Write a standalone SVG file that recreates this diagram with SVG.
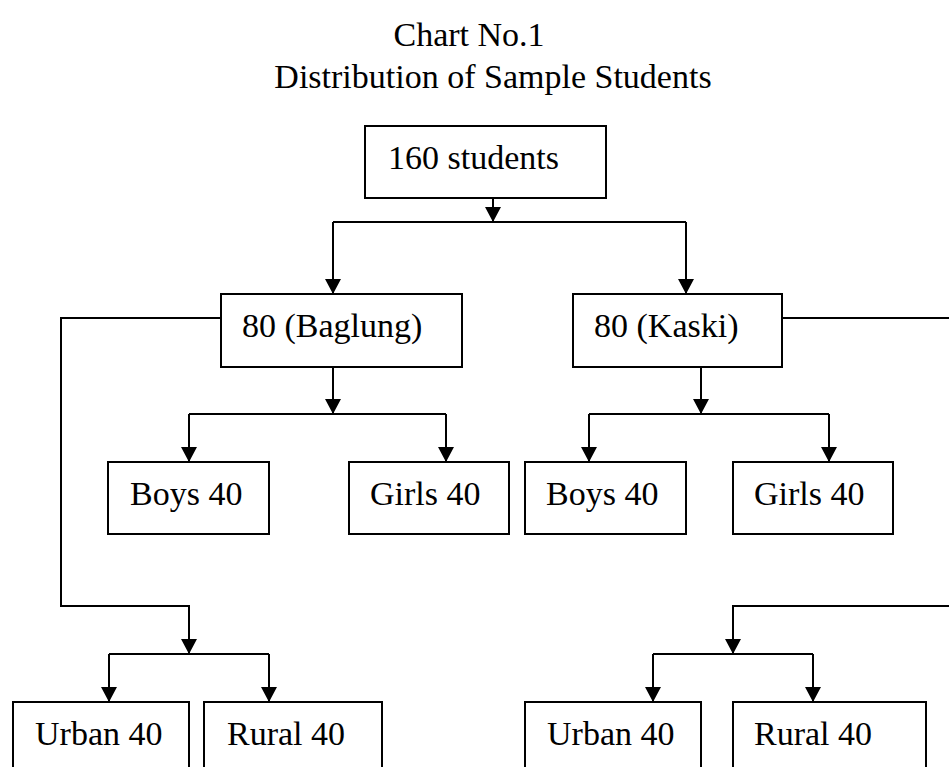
<svg xmlns="http://www.w3.org/2000/svg" width="949" height="767" viewBox="0 0 949 767">
<style>
text{font-family:"Liberation Serif","Times New Roman",serif;font-size:34px;fill:#000}
.box{fill:#fff;stroke:#000;stroke-width:2}
.ln{fill:none;stroke:#000;stroke-width:2}
</style>
<defs>
<marker id="a" markerUnits="userSpaceOnUse" markerWidth="16" markerHeight="16" refX="15" refY="8" orient="auto" viewBox="0 0 16 16">
<path d="M0,0 L15,8 L0,16 Z" fill="#000"/>
</marker>
</defs>
<rect width="949" height="767" fill="#fff"/>
<g id="title">
<text x="469" y="46" text-anchor="middle">Chart No.1</text>
<text x="493" y="88" text-anchor="middle">Distribution of Sample Students</text>
</g>
<g id="connectors">
<path class="ln" d="M493,198 V222" marker-end="url(#a)"/>
<path class="ln" d="M333,222 H686"/>
<path class="ln" d="M333,222 V294" marker-end="url(#a)"/>
<path class="ln" d="M686,222 V294" marker-end="url(#a)"/>
<path class="ln" d="M333,367 V414" marker-end="url(#a)"/>
<path class="ln" d="M189,414 H446"/>
<path class="ln" d="M189,414 V462" marker-end="url(#a)"/>
<path class="ln" d="M446,414 V462" marker-end="url(#a)"/>
<path class="ln" d="M701,367 V414" marker-end="url(#a)"/>
<path class="ln" d="M589,414 H829"/>
<path class="ln" d="M589,414 V462" marker-end="url(#a)"/>
<path class="ln" d="M829,414 V462" marker-end="url(#a)"/>
<path class="ln" d="M221,318 H61 V606 H189 V654" marker-end="url(#a)"/>
<path class="ln" d="M109,654 H269"/>
<path class="ln" d="M109,654 V702" marker-end="url(#a)"/>
<path class="ln" d="M269,654 V702" marker-end="url(#a)"/>
<path class="ln" d="M782,318 H962 V606 H733 V654" marker-end="url(#a)"/>
<path class="ln" d="M653,654 H813"/>
<path class="ln" d="M653,654 V702" marker-end="url(#a)"/>
<path class="ln" d="M813,654 V702" marker-end="url(#a)"/>
</g>
<g id="n160"><rect class="box" x="365" y="126" width="241" height="72"/><text x="388" y="169">160 students</text></g>
<g id="baglung"><rect class="box" x="221" y="294" width="241" height="73"/><text x="242" y="337">80 (Baglung)</text></g>
<g id="kaski"><rect class="box" x="573" y="294" width="209" height="73"/><text x="594" y="337">80 (Kaski)</text></g>
<g id="boys1"><rect class="box" x="108" y="462" width="161" height="72"/><text x="130" y="505">Boys 40</text></g>
<g id="girls1"><rect class="box" x="349" y="462" width="160" height="72"/><text x="370" y="505">Girls 40</text></g>
<g id="boys2"><rect class="box" x="525" y="462" width="161" height="72"/><text x="546" y="505">Boys 40</text></g>
<g id="girls2"><rect class="box" x="733" y="462" width="160" height="72"/><text x="754" y="505">Girls 40</text></g>
<g id="urban1"><rect class="box" x="13" y="702" width="176" height="80"/><text x="35" y="745">Urban 40</text></g>
<g id="rural1"><rect class="box" x="204" y="702" width="178" height="80"/><text x="227" y="745">Rural 40</text></g>
<g id="urban2"><rect class="box" x="525" y="702" width="176" height="80"/><text x="547" y="745">Urban 40</text></g>
<g id="rural2"><rect class="box" x="733" y="702" width="193" height="80"/><text x="754" y="745">Rural 40</text></g>
</svg>
